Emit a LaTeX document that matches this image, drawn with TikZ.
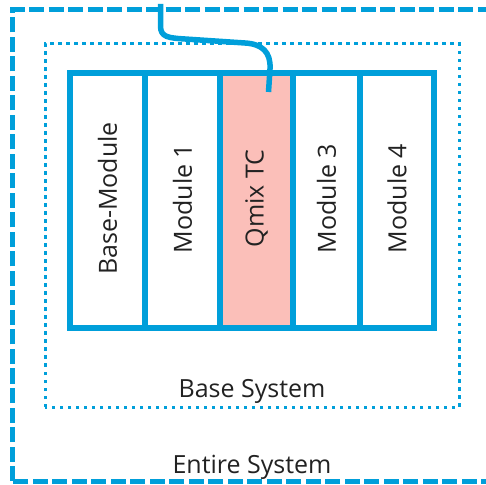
\documentclass[tikz,border=0pt]{standalone}
\usepackage{fontspec}
\setmainfont{Open Sans}
\usetikzlibrary{positioning}
\definecolor{qblue}{RGB}{0,159,218}
\definecolor{qpink}{RGB}{251,191,185}
\definecolor{qtext}{RGB}{34,34,34}
\tikzset{
  entire/.style={qblue,line width=5pt,dash pattern=on 15pt off 4.5pt},
  base/.style={qblue,line width=3pt,dash pattern=on 3.5pt off 4.5pt},
  module/.style={draw=qblue,line width=5.5pt,fill=white,minimum height=255pt,
    inner sep=0pt,outer sep=0pt,anchor=south west},
  modlabel/.style={rotate=90,font=\fontsize{25}{29}\selectfont,text=qtext},
  syslabel/.style={font=\fontsize{25}{29}\selectfont,text=qtext,anchor=base},
  cable/.style={qblue,line width=5.5pt}
}

\begin{document}
\begin{tikzpicture}[x=1pt,y=1pt]
    \useasboundingbox (0,0) rectangle (486,484);
    \clip (0,0) rectangle (486,484);

    \draw[entire] (12.5,3) rectangle (495,474);
    \draw[base] (45,77) rectangle (459,440);

    \node[module,minimum width=75pt] (basemod) at (70,156) {};
    \node[module,minimum width=75pt] (mod1) at (145,156) {};
    \node[module,minimum width=73pt,fill=qpink] (qmix) at (220,156) {};
    \node[module,minimum width=67pt] (mod3) at (293,156) {};
    \node[module,minimum width=74pt] (mod4) at (360,156) {};

    \node[modlabel] at ([yshift=2pt]basemod.center) {Base-Module};
    \node[modlabel] at ([yshift=2pt]mod1.center) {Module 1};
    \node[modlabel] at ([yshift=2pt]qmix.center) {Qmix TC};
    \node[modlabel] at ([yshift=2pt]mod3.center) {Module 3};
    \node[modlabel] at ([yshift=2pt]mod4.center) {Module 4};

    \node[syslabel] (baselbl) at (252,87) {Base System};
    \node[syslabel] (entirelbl) at (252,11) {Entire System};

    % cable into the Qmix TC module
    \coordinate (socket) at (160.5,480);
    \coordinate (plug) at (268.5,392);
    \draw[cable] (socket) -- (160.5,458) .. controls (160.5,447) and (168,446) .. (185,445)
      -- (245,441) .. controls (262,440) and (271,432) .. (270,415) -- (plug);
\end{tikzpicture}
\end{document}
